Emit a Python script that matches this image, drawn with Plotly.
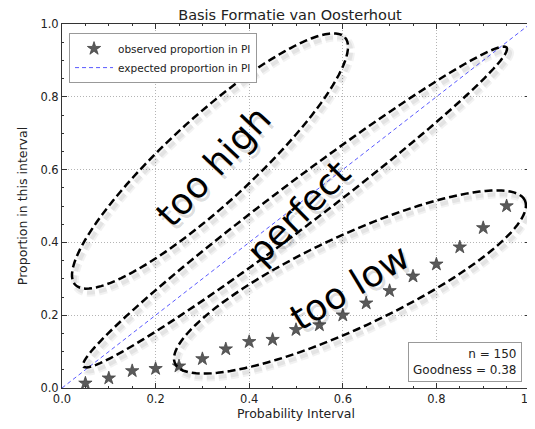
import numpy as np
import plotly.graph_objects as go

# ---------------- data ----------------
prob_interval = [0.05, 0.10, 0.15, 0.20, 0.25, 0.30, 0.35, 0.40, 0.45, 0.50,
                 0.55, 0.60, 0.65, 0.70, 0.75, 0.80, 0.85, 0.90, 0.95]
observed = [0.013, 0.027, 0.047, 0.053, 0.060, 0.080, 0.107, 0.127, 0.133, 0.160,
            0.173, 0.200, 0.233, 0.267, 0.307, 0.340, 0.387, 0.440, 0.500]
expected_x = [0.0, 1.0]
expected_y = [0.0, 1.0]
n_samples = 150
goodness = 0.38
ticks = [0.0, 0.2, 0.4, 0.6, 0.8, 1.0]
tick_labels = ["0.0", "0.2", "0.4", "0.6", "0.8", "1.0"]

# ---------------- layout geometry ----------------
W, H = 535, 429
OFF = 8                     # page body margin
L, T = 62, 24               # plot-area origin in page pixels
PW, PH = 468, 364           # plot-area size

def px_to_data(px, py):
    return (px - L) / PW, (T + PH - py) / PH

def ellipse_path(cx, cy, a, b, ang_deg, dx=0.0, dy=0.0):
    t = np.linspace(0, 2 * np.pi, 120)
    th = np.radians(ang_deg)
    ex = a * np.cos(t)
    ey = b * np.sin(t)
    px = cx + ex * np.cos(th) + ey * np.sin(th) + dx
    py = cy - ex * np.sin(th) + ey * np.cos(th) + dy
    pts = [px_to_data(x, y) for x, y in zip(px, py)]
    return "M " + " L ".join(f"{x:.4f},{y:.4f}" for x, y in pts) + " Z"

# ellipse annotation geometry (page pixels): cx, cy, semi-major, semi-minor, angle
ellipses = [
    (210, 161, 183, 43, 42.5),
    (295, 207, 265, 22, 37.0),
    (350, 282, 193, 46, 25.0),
]
labels = [
    ("too high", 213, 166, -47),
    ("perfect", 298, 212, -45),
    ("too low", 349, 287, -31),
]

fig = go.Figure()

fig.add_trace(go.Scatter(
    x=prob_interval, y=observed, mode="markers",
    name="observed proportion in PI",
    marker=dict(symbol="star", size=10, color="#5a5a5a", line=dict(width=0.8, color="#444444")),
))
fig.add_trace(go.Scatter(
    x=expected_x, y=expected_y, mode="lines",
    name="expected proportion in PI",
    line=dict(color="rgba(60,60,255,0.85)", width=1, dash="4px,3px"),
))

shapes = []
for cx, cy, a, b, ang in ellipses:
    shapes.append(dict(type="path", xref="x", yref="y",
                       path=ellipse_path(cx, cy, a, b, ang, 3, 4),
                       line=dict(color="rgba(0,0,0,0.05)", width=8, dash="8px,4px")))
    shapes.append(dict(type="path", xref="x", yref="y",
                       path=ellipse_path(cx, cy, a, b, ang, 3, 4),
                       line=dict(color="rgba(0,0,0,0.06)", width=4, dash="8px,4px")))
for cx, cy, a, b, ang in ellipses:
    shapes.append(dict(type="path", xref="x", yref="y",
                       path=ellipse_path(cx, cy, a, b, ang),
                       line=dict(color="black", width=2.5, dash="8px,4px")))

annotations = []
for txt, px, py, ang in labels:
    x, y = px_to_data(px, py)
    annotations.append(dict(x=x, y=y, xref="x", yref="y", text=txt, showarrow=False,
                            textangle=ang, xshift=3, yshift=-4,
                            font=dict(family="DejaVu Sans", size=36, color="rgba(0,0,0,0.14)")))
    annotations.append(dict(x=x, y=y, xref="x", yref="y", text=txt, showarrow=False,
                            textangle=ang,
                            font=dict(family="DejaVu Sans", size=36, color="black")))

annotations.append(dict(
    x=0.983, y=0.016, xref="paper", yref="paper", xanchor="right", yanchor="bottom",
    text=f"n = {n_samples}<br>Goodness = {goodness:.2f}", align="right", showarrow=False,
    bordercolor="#999999", borderwidth=1, borderpad=4, bgcolor="white",
    font=dict(family="DejaVu Sans", size=12, color="#222222"),
))

axis_common = dict(
    range=[0, 1], tickvals=ticks, ticktext=tick_labels, automargin=False,
    ticks="inside", ticklen=5, tickcolor="#333333", mirror="allticks",
    showline=True, linecolor="#333333", linewidth=1,
    showgrid=True, gridcolor="#b4b4b4", griddash="1px,2px", gridwidth=1,
    zeroline=False,
    minor=dict(dtick=0.05, ticks="inside", ticklen=2, tickcolor="#333333", showgrid=False),
    tickfont=dict(family="DejaVu Sans", size=11.5, color="#222222"),
)

ml, mt = L - OFF, T - OFF
mr = W - ml - PW
mb = H - mt - PH

fig.update_layout(
    width=W, height=H,
    margin=dict(l=ml, r=mr, t=mt, b=mb, pad=0),
    plot_bgcolor="white", paper_bgcolor="white",
    font=dict(family="DejaVu Sans", color="#222222"),
    title=dict(text="Basis Formatie van Oosterhout", x=(290 - OFF) / W, xanchor="center",
               y=1 - (14.5 - OFF) / H, yanchor="middle", font=dict(size=14.5, color="#222222")),
    xaxis=dict(axis_common, title=dict(text="Probability Interval", standoff=3,
                                       font=dict(size=12.5))),
    yaxis=dict(axis_common, title=dict(text="Proportion in this interval", standoff=10,
                                       font=dict(size=12.5))),
    showlegend=True,
    legend=dict(x=0.015, y=0.975, xanchor="left", yanchor="top",
                bgcolor="white", bordercolor="#999999", borderwidth=1,
                font=dict(family="DejaVu Sans", size=10.5, color="#222222"),
                itemwidth=38, tracegroupgap=2),
    shapes=shapes,
    annotations=annotations,
)

fig.write_html("out.html")
